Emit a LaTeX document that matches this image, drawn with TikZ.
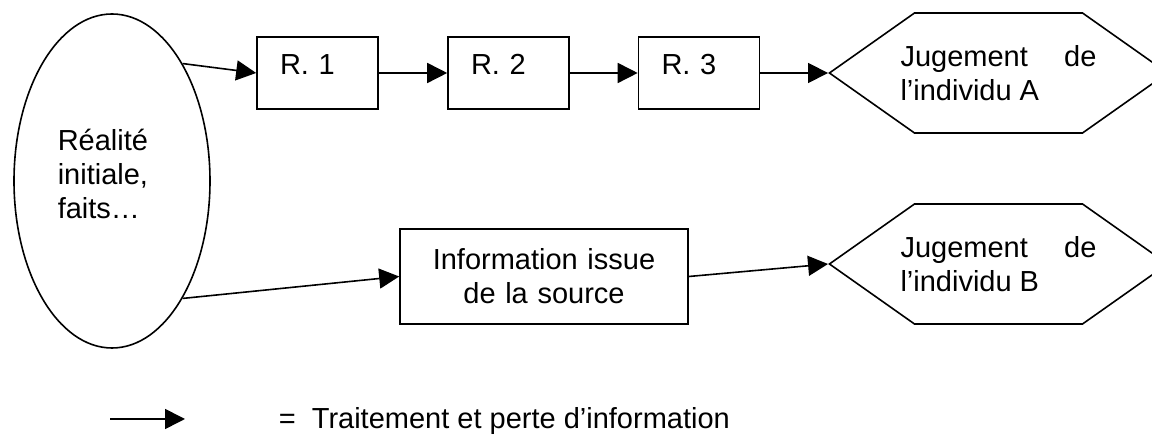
\documentclass[tikz,border=0pt]{standalone}
\usepackage{fontspec}
\setmainfont{Liberation Sans}
\usepackage{tikz}
\usetikzlibrary{arrows.meta,shapes.geometric,shapes.symbols}

\begin{document}
\begin{tikzpicture}[x=0.5pt,y=-0.5pt,line width=0.8pt,
                      every node/.style={font=\fontsize{14.5}{17}\selectfont},
                      boite/.style={draw,rectangle,text width=37.5pt,align=left,inner xsep=11.5pt,inner ysep=5pt,text height=14pt,text depth=12pt},
                      hexa/.style={draw,signal,signal to=west and east,signal pointer angle=70.4,minimum height=60pt,inner xsep=-7pt,inner ysep=0pt,text width=98pt,align=justify},
                      fl/.style={-{Triangle[length=10pt,width=10pt]}}]
                      \useasboundingbox(0,0)rectangle(1152,437);
                      \node[draw,ellipse,minimum width=98pt,minimum height=167pt,inner sep=0pt](real)at(112,181){};
                      \node[anchor=west,align=left,inner xsep=0pt](txt)at(57,174){Réalité\\initiale,\\faits…};
                      \node[boite](r1)at(317.5,73){R. 1};
                      \node[boite](r2)at(508.5,73){R. 2};
                      \node[boite](r3)at(699,73){R. 3};
                      \node[draw,text width=130pt,align=center,minimum width=144pt,minimum height=47.5pt,inner sep=0pt](info)at(544,276.5){Information issue\\de la source};
                      \node[hexa](juga)at(998.5,73){Jugement de l’individu A};
                      \node[hexa](jugb)at(998.5,264){Jugement de l’individu B};
                      \draw[fl](real.59)--(r1.west);
                      \draw[fl](r1.east)--(r2.west);
                      \draw[fl](r2.east)--(r3.west);
                      \draw[fl](r3.east)--(juga.west);
                      \draw[fl](real.-59)--(info.west);
                      \draw[fl](info.east)--(jugb.west);
                      \coordinate(la)at(110,419);
                      \coordinate(lb)at(185,419);
                      \draw[fl](la)--(lb);
                      \node[anchor=west,inner xsep=0pt](leg)at(278,421){=~~Traitement et perte d’information};
                  \end{tikzpicture}
\end{document}
